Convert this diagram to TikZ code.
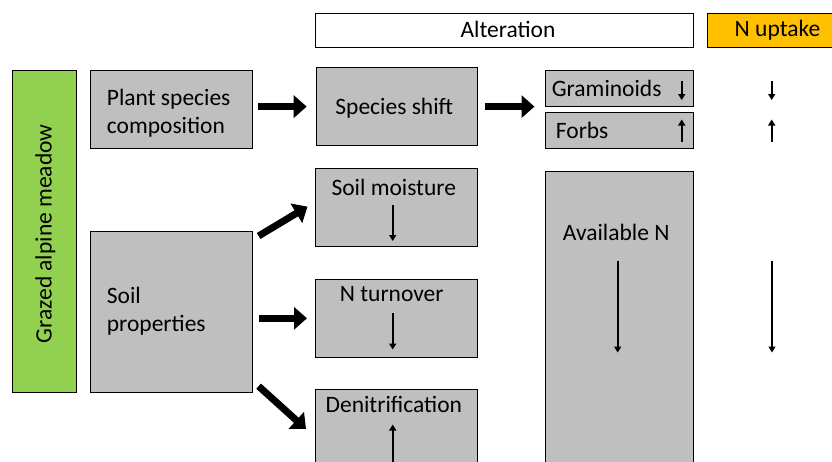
\documentclass[tikz,border=0pt]{standalone}
\usepackage{fontspec}
\setmainfont{Carlito}
\usetikzlibrary{arrows.meta}
\definecolor{boxgray}{HTML}{BFBFBF}
\definecolor{meadow}{HTML}{92D050}
\definecolor{uptake}{HTML}{FFC000}
\begin{document}
\begin{tikzpicture}[x=1pt,y=-1pt,
  box/.style={draw=black, line width=0.9pt, fill=boxgray, inner sep=0pt, anchor=north west},
  txt/.style={inner sep=0pt, font=\fontsize{23.5}{28}\selectfont},
  bigarr/.style={line width=7pt, -{Triangle[length=13pt,width=22pt]}},
  smallarr/.style={line width=1.6pt, -{Triangle[length=6pt,width=7pt]}}]
\path[use as bounding box] (0,0) rectangle (832,461);
\clip (0,0) rectangle (832,461);
% header boxes
\node[box, fill=white, minimum width=377.7pt, minimum height=34pt] (alt) at (315,13) {};
\node[box, fill=uptake, minimum width=141pt, minimum height=34pt] (nup) at (707.3,13) {};
\node[txt, anchor=base] (altT) at (508,37.7) {Alteration};
\node[txt, anchor=base] (nupT) at (777.5,36.7) {N uptake};
% left column
\node[box, fill=meadow, minimum width=63.4pt, minimum height=322.3pt] (green) at (12.3,70) {};
\node[txt, anchor=base, rotate=90] (greenT) at (51.7,233.8) {Grazed alpine meadow};
\node[box, minimum width=161.4pt, minimum height=77.7pt] (plant) at (90.3,70) {};
\node[txt, anchor=base west] (plantT1) at (106.7,105) {Plant species};
\node[txt, anchor=base west] (plantT2) at (106.7,133.3) {composition};
\node[box, minimum width=161.4pt, minimum height=161.3pt] (soil) at (90.3,231) {};
\node[txt, anchor=base west] (soilT1) at (106.7,303.5) {Soil};
\node[txt, anchor=base west] (soilT2) at (106.7,331.8) {properties};
% middle column
\node[box, minimum width=161.6pt, minimum height=77.7pt] (shift) at (315.7,67.3) {};
\node[txt, anchor=base] (shiftT) at (394.3,114.3) {Species shift};
\node[box, minimum width=161.7pt, minimum height=77.7pt] (moist) at (315,168.3) {};
\node[txt, anchor=base] (moistT) at (393.8,195) {Soil moisture};
\node[box, minimum width=161.7pt, minimum height=77.4pt] (turn) at (315,279.3) {};
\node[txt, anchor=base] (turnT) at (391.7,301) {N turnover};
\node[box, minimum width=161.7pt, minimum height=120pt] (denit) at (315,389) {};
\node[txt, anchor=base] (denitT) at (393.8,412.3) {Denitrification};
% right column
\node[box, minimum width=147.7pt, minimum height=35.7pt] (gram) at (545,70) {};
\node[txt, anchor=base west] (gramT) at (551.7,96.7) {Graminoids};
\node[box, minimum width=147.7pt, minimum height=35.4pt] (forbs) at (545,112.3) {};
\node[txt, anchor=base west] (forbsT) at (555.7,138.3) {Forbs};
\node[box, minimum width=147.7pt, minimum height=330pt] (avail) at (545,170.7) {};
\node[txt, anchor=base] (availT) at (616.2,240.7) {Available N};
% small arrow coordinates
\coordinate (g1) at (681.7,81); \coordinate (g2) at (681.7,100);
\coordinate (f1) at (681.7,142); \coordinate (f2) at (681.7,119.5);
\coordinate (u1) at (771.7,81); \coordinate (u2) at (771.7,100);
\coordinate (u3) at (771.7,142); \coordinate (u4) at (771.7,119.5);
\coordinate (m1) at (392.7,205); \coordinate (m2) at (392.7,241);
\coordinate (t1) at (392.7,313); \coordinate (t2) at (392.7,349.5);
\coordinate (d1) at (392.7,470); \coordinate (d2) at (392.7,424.5);
\coordinate (a1) at (617.7,260.7); \coordinate (a2) at (617.7,352.5);
\coordinate (a3) at (772,260.7); \coordinate (a4) at (772,352.5);
\draw[smallarr] (g1) -- (g2);
\draw[smallarr] (f1) -- (f2);
\draw[smallarr] (u1) -- (u2);
\draw[smallarr] (u3) -- (u4);
\draw[smallarr] (m1) -- (m2);
\draw[smallarr] (t1) -- (t2);
\draw[smallarr] (d1) -- (d2);
\draw[smallarr] (a1) -- (a2);
\draw[smallarr] (a3) -- (a4);
% big arrows
\draw[bigarr] ([xshift=5.5pt]plant.east |- shift.west) -- ([xshift=-9pt]shift.west);
\draw[bigarr] ([xshift=6.7pt]shift.east) -- ([xshift=-10.5pt]shift.east -| gram.west);
\draw[bigarr] ([xshift=6pt,yshift=-5pt]soil.north east) -- ([xshift=-7.5pt,yshift=1pt]moist.west);
\draw[bigarr] ([xshift=6.5pt,yshift=-87.3pt]soil.north east) -- ([xshift=-8pt,yshift=-87.3pt]turn.north west |- soil.north east);
\draw[bigarr] ([xshift=6pt,yshift=7pt]soil.south east) -- ([xshift=-9pt,yshift=-40pt]denit.north west);
\end{tikzpicture}
\end{document}
